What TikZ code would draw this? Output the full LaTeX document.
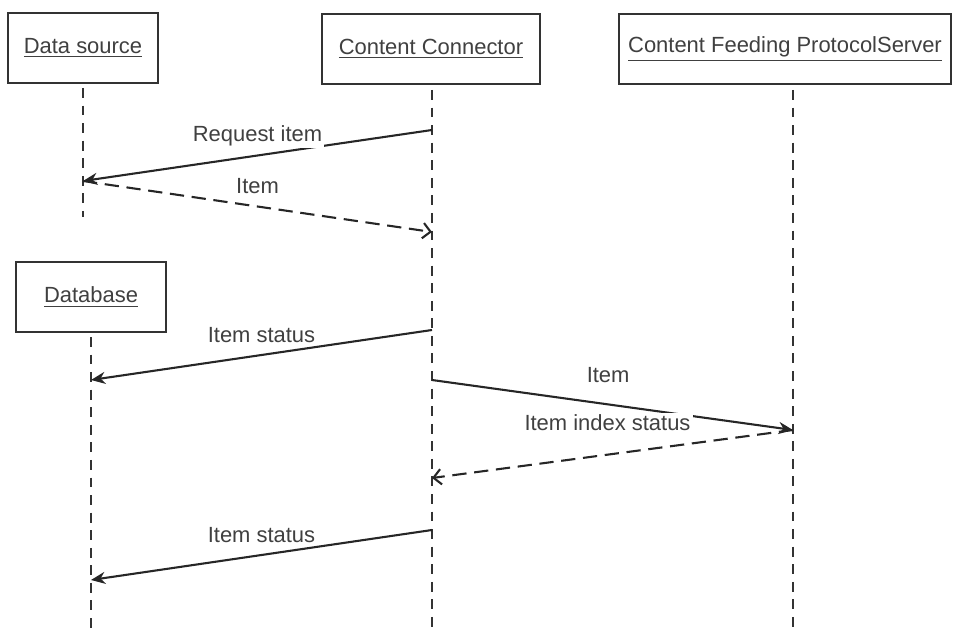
\documentclass[tikz,border=0pt]{standalone}
\usepackage{fontspec}
\setmainfont{Liberation Sans}
\usetikzlibrary{arrows.meta}

\begin{document}
\begin{tikzpicture}[x=0.016cm,y=-0.016cm,
    font=\fontsize{10}{12}\selectfont,
    actor/.style={draw=black!80,line width=1pt,minimum height=1.12cm,text=black!75},
    life/.style={draw=black!80,line width=0.9pt,dash pattern=on 4.5pt off 3.5pt},
    call/.style={draw=black!85,line width=0.95pt,-{Stealth[length=6.5pt,width=5.5pt]}},
    reply/.style={draw=black!85,line width=0.95pt,dash pattern=on 6.5pt off 3.5pt,
      -{Straight Barb[length=3.5pt,width=7pt]}},
    msg/.style={midway,yshift=#1,fill=white,inner sep=1pt,text=black!75},
    msg/.default=0.32cm]
  \useasboundingbox (0,0) rectangle (953,628);
  % participants
  \node[actor,minimum width=2.4cm] (ds) at (83,48) {\underline{Data source}};
  \node[actor,minimum width=3.49cm] (cc) at (431,49) {\underline{Content Connector}};
  \node[actor,minimum width=5.31cm] (cfps) at (785,49) {\underline{Content Feeding ProtocolServer}};
  \node[actor,minimum width=2.4cm] (db) at (91,297) {\underline{Database}};
  % lifelines
  \coordinate (dsEnd) at (83,217);
  \coordinate (ccEnd) at (432,628);
  \coordinate (cfpsEnd) at (793,628);
  \coordinate (dbEnd) at (91,628);
  \draw[life] (ds.south |- 0,88) -- (dsEnd);
  \draw[life] (ccEnd |- 0,90) -- (ccEnd);
  \draw[life] (cfpsEnd |- 0,90) -- (cfpsEnd);
  \draw[life] (dbEnd |- 0,337) -- (dbEnd);
  % message ends
  \coordinate (cc1) at (432,130);
  \coordinate (ds1) at (83,181);
  \coordinate (cc2) at (432,232);
  \coordinate (cc3) at (432,330);
  \coordinate (db3) at (91,380);
  \coordinate (cc4) at (432,380);
  \coordinate (cf4) at (793,430);
  \coordinate (cc5) at (432,478);
  \coordinate (cc6) at (432,530);
  \coordinate (db6) at (91,580);
  % messages
  \draw[call] (cc1) -- node[msg] {Request item} (ds1);
  \draw[reply] (ds1) -- node[msg] {Item} (cc2);
  \draw[call] (cc3) -- node[msg] {Item status} (db3);
  \draw[call] (cc4) -- node[msg=0.48cm,xshift=-0.07cm] {Item} (cf4);
  \draw[reply] (cf4) -- node[msg=0.5cm,xshift=-0.08cm] {Item index status} (cc5);
  \draw[call] (cc6) -- node[msg] {Item status} (db6);
\end{tikzpicture}
\end{document}
